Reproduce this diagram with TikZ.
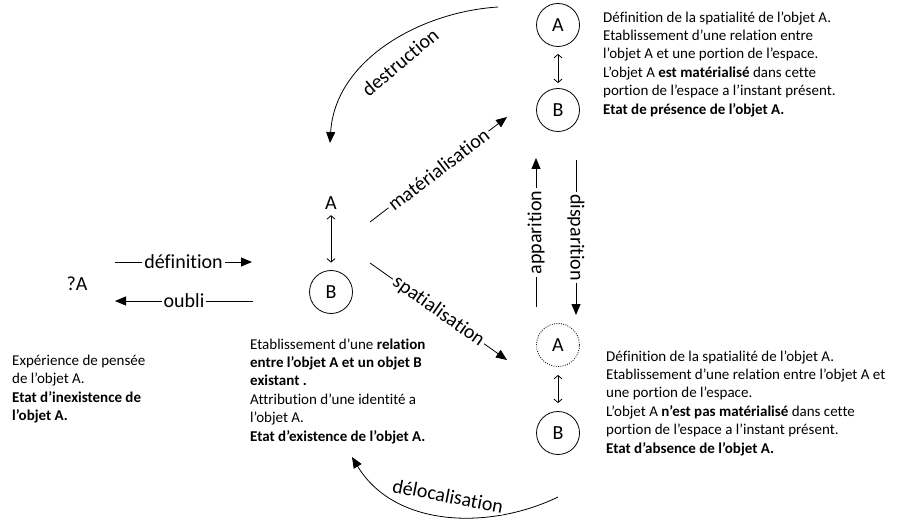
\documentclass[tikz,border=0pt]{standalone}
\usepackage{fontspec}
\setmainfont{Carlito}[Ligatures=NoCommon]
\usetikzlibrary{arrows.meta}
\begin{document}
\begin{tikzpicture}[x=1pt,y=-1pt,
  every node/.style={inner sep=0pt},
  circ/.style={draw, circle, minimum size=43pt, line width=0.8pt, font=\fontsize{20}{24}\selectfont},
  dcirc/.style={circ, dash pattern=on 0.9pt off 1.4pt},
  big/.style={font=\fontsize{20}{24}\selectfont},
  body/.style={align=left, anchor=west, font=\fontsize{15}{18.4}\selectfont},
  arr/.style={line width=0.8pt, -{Triangle[length=11pt,width=9pt]}},
  dbl/.style={line width=0.8pt, {Straight Barb[length=3.5pt,width=8pt]}-{Straight Barb[length=3.5pt,width=8pt]}},
  lab/.style={fill=white, inner sep=2pt, font=\fontsize{20}{24}\selectfont},
]
\useasboundingbox (0,0) rectangle (899,521);

% circles and letters
\node[big] (q) at (77,284) {?A};
\node[big] (mA) at (331,203) {A};
\node[circ] (mB) at (331,292) {B};
\node[circ] (tA) at (558,25) {A};
\node[circ] (tB) at (558,110) {B};
\node[dcirc] (bA) at (558,345) {A};
\node[circ] (bB) at (558,433) {B};

% double arrows
\draw[dbl, shorten <=5.5pt, shorten >=7.5pt] (mA) -- (mB);
\draw[dbl, shorten <=7pt, shorten >=5pt] (tA) -- (tB);
\draw[dbl, shorten <=8pt, shorten >=8pt] (bA) -- (bB);

% free ends
\coordinate (def1) at (115,262); \coordinate (def2) at (252,262);
\coordinate (oub1) at (253,301); \coordinate (oub2) at (115,301);
\coordinate (ma1) at (370,222);  \coordinate (ma2) at (507,117);
\coordinate (sp1) at (370,263);  \coordinate (sp2) at (507,360);
\coordinate (ap1) at (536,307);  \coordinate (ap2) at (536,158);
\coordinate (di1) at (576,160);  \coordinate (di2) at (576,315);
\coordinate (de1) at (498,7);    \coordinate (de2) at (330,143);
\coordinate (dl1) at (558,497);  \coordinate (dl2) at (352,457);

\draw[arr] (def1) -- node[lab]{définition} (def2);
\draw[arr] (oub1) -- node[lab]{oubli} (oub2);
\draw[arr] (ma1) -- node[lab, sloped]{matérialisation} (ma2);
\draw[arr] (sp1) -- node[lab, sloped]{spatialisation} (sp2);
\draw[arr] (ap1) -- node[lab, rotate=90]{apparition} (ap2);
\draw[arr] (di1) -- node[lab, rotate=-90]{disparition} (di2);
\draw[arr] (de1) .. controls (420,12) and (335,60) .. (de2);
\node[lab, inner sep=1pt, rotate=40] (delab) at (400,62) {destruction};
\draw[arr] (dl1) .. controls (490,530) and (395,528) .. (dl2);
\node[lab, inner sep=1pt, rotate=-11] (dllab) at (448,496) {délocalisation};

% text blocks
\node[body] (tr) at (603,64) {Définition de la spatialité de l’objet A.\\
Etablissement d’une relation entre\\
l’objet A et une portion de l’espace.\\
L’objet A \textbf{est matérialisé} dans cette\\
portion de l’espace a l’instant présent.\\
\textbf{Etat de présence de l’objet A.}};

\node[body] (br) at (606,403) {Définition de la spatialité de l’objet A.\\
Etablissement d’une relation entre l’objet A et\\
une portion de l’espace.\\
L’objet A \textbf{n’est pas matérialisé} dans cette\\
portion de l’espace a l’instant présent.\\
\textbf{Etat d’absence de l’objet A.}};

\node[body] (lt) at (12,389) {Expérience de pensée\\
de l’objet A.\\
\textbf{Etat d’inexistence de}\\
\textbf{l’objet A.}};

\node[body] (mt) at (250,391) {Etablissement d’une \textbf{relation}\\
\textbf{entre l’objet A et un objet B}\\
\textbf{existant .}\\
Attribution d’une identité a\\
l’objet A.\\
\textbf{Etat d’existence de l’objet A.}};
\end{tikzpicture}
\end{document}
